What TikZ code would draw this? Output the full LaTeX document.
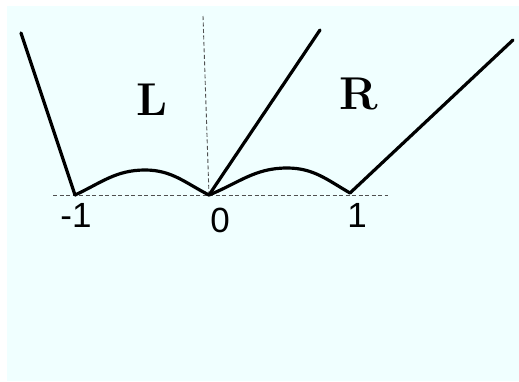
\documentclass[tikz,border=0pt]{standalone}
\usepackage{fontspec}
\newfontfamily\numfont{Liberation Sans}
\usetikzlibrary{positioning,calc}
\definecolor{bgcyan}{RGB}{240,255,255}
\definecolor{guidegray}{RGB}{80,80,80}
\tikzset{
  curveln/.style={line width=3.2pt, line cap=round, line join=round, black},
  guideln/.style={dash pattern=on 4pt off 2.5pt, line width=0.9pt, guidegray},
  numlbl/.style={font={\fontsize{35}{35}\selectfont\numfont}, inner sep=0pt},
  regionlbl/.style={font={\fontsize{46}{46}\selectfont\bfseries}, inner sep=0pt},
}
\begin{document}
\begin{tikzpicture}[x=1pt, y=-1pt]
    \useasboundingbox (0,0) rectangle (519,381);
    % pale background panel
    \fill[bgcyan] (7,6) rectangle (519,381);
    % the three corner points
    \coordinate (m1) at (75,195);
    \coordinate (o) at (209,195);
    \coordinate (p1) at (350,193);
    \coordinate (axl) at (53,195);
    \coordinate (axr) at (388,195);
    \coordinate (vtop) at (203,16);
    % dashed guides
    \draw[guideln] (axl) -- (axr);
    \draw[guideln] (vtop) -- (o);
    % outer rays
    \coordinate (lend) at (21,33);
    \coordinate (mend) at (320,30);
    \coordinate (rend) at (513,40);
    \draw[curveln] (lend) -- (m1);
    \draw[curveln] (o) -- (mend);
    \draw[curveln] (p1) -- (rend);
    % bumps between the points
    \coordinate (peakl) at (145,170);
    \coordinate (peakr) at (287,168);
    \draw[curveln] (m1) to[out=25,in=180] (peakl) to[out=0,in=153] (o);
    \draw[curveln] (o) to[out=22,in=180] (peakr) to[out=0,in=150] (p1);
    % region labels
    \node[regionlbl] (lbll) at (152,100) {L};
    \node[regionlbl] (lblr) at (359,94) {R};
    % tick labels
    \node[numlbl] (nm1) at (76,215) {-1};
    \node[numlbl] (n0) at (220,220) {0};
    \node[numlbl] (n1) at (357,215) {1};
\end{tikzpicture}
\end{document}
